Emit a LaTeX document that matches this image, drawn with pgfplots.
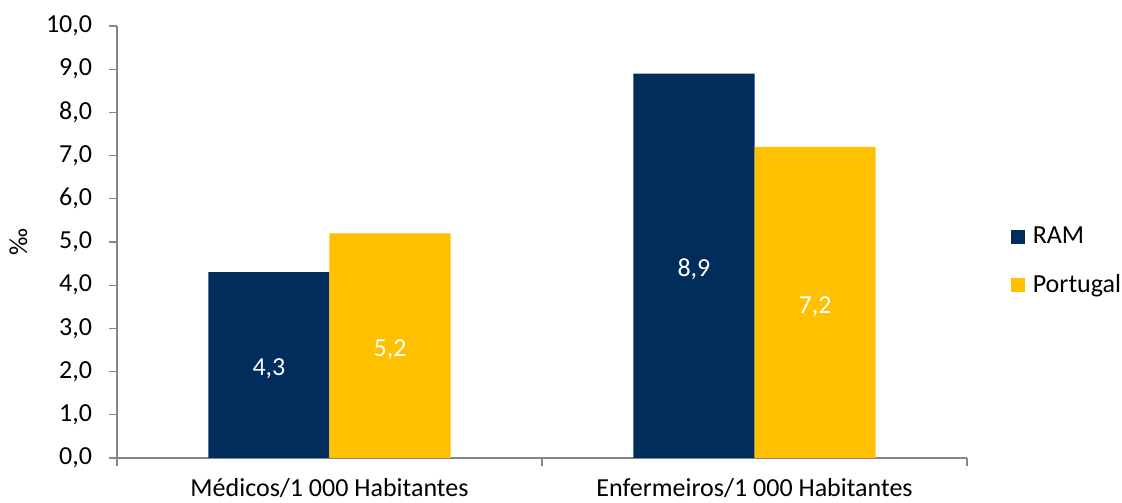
\documentclass[border=0pt]{standalone}
\usepackage{pgfplots}
\pgfplotsset{compat=1.18}
\usepackage{fontspec}
\setmainfont{Carlito}
\definecolor{ramblue}{RGB}{0,45,92}
\definecolor{ptyellow}{RGB}{255,192,0}
\definecolor{axgray}{RGB}{134,134,134}
\begin{document}
\fontsize{19.5}{23}\selectfont
\begin{tikzpicture}
\begin{axis}[
  at={(0,0)}, anchor=south west,
  scale only axis,
  width=637.5pt, height=324pt,
  xmin=-0.5, xmax=1.5,
  ymin=0, ymax=10,
  axis lines*=left,
  axis line style={axgray, line width=0.9pt},
  ytick={0,1,...,10},
  /pgf/number format/assume math mode=true,
  y tick label style={/pgf/number format/fixed, /pgf/number format/fixed zerofill, /pgf/number format/precision=1, /pgf/number format/use comma},
  yticklabel style={font=\fontsize{19.5}{23}\selectfont, xshift=-6pt},
  xtick={-0.5,0.5,1.5},
  xticklabels={},
  x tick style={axgray, line width=0.9pt},
  extra x ticks={0,1},
  extra x tick labels={Médicos/1 000 Habitantes, Enfermeiros/1 000 Habitantes},
  extra x tick style={major tick length=0pt, xticklabel style={font=\fontsize{19.5}{23}\selectfont, yshift=-14.5pt, inner ysep=1pt}},
  tick align=outside,
  major tick length=6pt,
  y tick style={axgray, line width=0.9pt},
  tick pos=left,
  ylabel={‰},
  every axis y label/.style={at={(axis description cs:0,0.5)}, xshift=-74pt, rotate=90, anchor=center, font=\fontsize{19.5}{23}\selectfont},
  ybar, bar width=0.285,
  visualization depends on=y \as \rawy,
  nodes near coords={\pgfmathprintnumber[fixed,fixed zerofill,precision=1,use comma]{\pgfplotspointmeta}},
  nodes near coords style={anchor=center, white, font=\fontsize{19.5}{23}\selectfont, shift={(axis direction cs:0,-\rawy/2)}, yshift=-3pt},
  legend style={at={(1.052,0.455)}, anchor=west, draw=none, fill=none, inner xsep=0pt,
    font=\fontsize{19.5}{23}\selectfont, row sep=16pt,
    nodes={inner xsep=5.5pt}},
  legend cell align=left,
  legend image code/.code={\fill[#1] (0pt,-5.25pt) rectangle (10.5pt,5.25pt);},
]
\addplot[fill=ramblue, draw=none, bar shift=-0.1425] coordinates {(0,4.3) (1,8.9)};
\addlegendentry{RAM}
\addplot[fill=ptyellow, draw=none, bar shift=0.1425] coordinates {(0,5.2) (1,7.2)};
\addlegendentry{Portugal}
\end{axis}
\pgfresetboundingbox
\path (-87.75pt,-33.75pt) rectangle (753.75pt,343.5pt);
\end{tikzpicture}
\end{document}
